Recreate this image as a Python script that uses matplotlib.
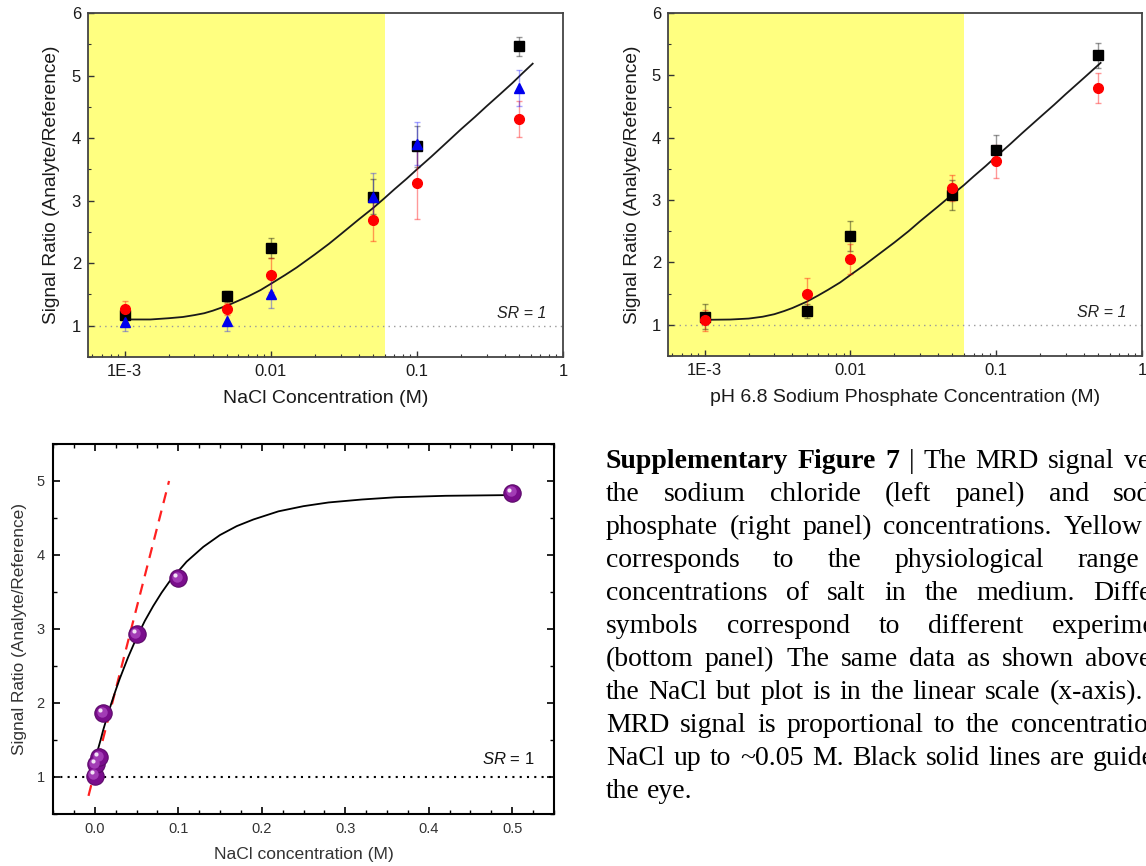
import numpy as np
import matplotlib
matplotlib.use('Agg')
import matplotlib.pyplot as plt
import matplotlib.transforms as mtransforms
from matplotlib.ticker import FixedLocator, FixedFormatter, LogLocator, NullFormatter, MultipleLocator

plt.rcParams['font.family'] = ['Liberation Sans', 'DejaVu Sans']
plt.rcParams['mathtext.fontset'] = 'custom'
plt.rcParams['mathtext.rm'] = 'Liberation Sans'
plt.rcParams['mathtext.it'] = 'Liberation Sans:italic'

# concentrations (M) used in both log panels
conc = [0.001, 0.005, 0.01, 0.05, 0.1, 0.5]

# NaCl, three experiments
nacl_sq = [1.17, 1.47, 2.25, 3.06, 3.87, 5.47]
nacl_sq_err = [0.08, 0.09, 0.16, 0.28, 0.33, 0.15]
nacl_ci = [1.26, 1.27, 1.81, 2.69, 3.28, 4.30]
nacl_ci_err = [0.13, 0.10, 0.27, 0.34, 0.58, 0.29]
nacl_tri = [1.06, 1.07, 1.51, 3.06, 3.91, 4.80]
nacl_tri_err = [0.14, 0.15, 0.23, 0.38, 0.34, 0.29]

# sodium phosphate pH 6.8, two experiments
phos_sq = [1.13, 1.22, 2.42, 3.08, 3.81, 5.32]
phos_sq_err = [0.20, 0.11, 0.24, 0.24, 0.24, 0.20]
phos_ci = [1.07, 1.49, 2.06, 3.20, 3.62, 4.79]
phos_ci_err = [0.17, 0.26, 0.24, 0.21, 0.26, 0.24]

# guide-to-the-eye lines
nacl_guide_x = [0.001, 0.0015, 0.002, 0.0025, 0.003, 0.0035, 0.004, 0.005, 0.006, 0.007,
                0.0085, 0.01, 0.0125, 0.015, 0.02, 0.025, 0.03, 0.04, 0.05, 0.06, 0.07,
                0.085, 0.1, 0.125, 0.15, 0.2, 0.25, 0.3, 0.37, 0.45, 0.53, 0.62]
nacl_guide_y = [1.10, 1.10, 1.12, 1.14, 1.17, 1.20, 1.24, 1.32, 1.40, 1.47,
                1.57, 1.67, 1.81, 1.93, 2.14, 2.31, 2.46, 2.70, 2.88, 3.04, 3.18,
                3.35, 3.50, 3.70, 3.87, 4.14, 4.34, 4.51, 4.70, 4.88, 5.04, 5.19]
phos_guide_x = [0.001, 0.0015, 0.002, 0.0025, 0.003, 0.0035, 0.004, 0.005, 0.006, 0.007,
                0.0085, 0.01, 0.0125, 0.015, 0.02, 0.025, 0.03, 0.04, 0.05, 0.06, 0.07,
                0.085, 0.1, 0.125, 0.15, 0.2, 0.25, 0.3, 0.4, 0.52]
phos_guide_y = [1.08, 1.085, 1.10, 1.13, 1.17, 1.22, 1.27, 1.37, 1.47, 1.56,
                1.68, 1.80, 1.96, 2.10, 2.32, 2.50, 2.66, 2.90, 3.09, 3.24, 3.38,
                3.55, 3.70, 3.90, 4.07, 4.33, 4.53, 4.70, 4.96, 5.20]

# NaCl on a linear axis
lin_x = [0.0, 0.001, 0.005, 0.01, 0.05, 0.1, 0.5]
lin_y = [1.02, 1.17, 1.27, 1.86, 2.93, 3.69, 4.84]
lin_guide_x = [0.004, 0.007, 0.01, 0.015, 0.02, 0.025, 0.03, 0.04, 0.05, 0.06,
               0.07, 0.08, 0.09, 0.1, 0.11, 0.12, 0.13, 0.14, 0.15, 0.17,
               0.19, 0.22, 0.25, 0.28, 0.32, 0.36, 0.42, 0.5]
lin_guide_y = [1.38, 1.50, 1.63, 1.82, 2.00, 2.17, 2.33, 2.62, 2.88, 3.11,
               3.31, 3.49, 3.65, 3.78, 3.91, 4.01, 4.11, 4.19, 4.27, 4.39,
               4.48, 4.59, 4.66, 4.71, 4.75, 4.78, 4.80, 4.81]
slope_x = [-0.0075, 0.089]
slope_y = [0.745, 5.0]

physio_max = 0.06
log_ticks = [1e-3, 1e-2, 1e-1, 1]
log_tick_labels = ['1E-3', '0.01', '0.1', '1']

caption_bold = ['Supplementary', 'Figure', '7']
caption_lines = [
    '| The MRD signal versus',
    'the sodium chloride (left panel) and sodium',
    'phosphate (right panel) concentrations. Yellow box',
    'corresponds to the physiological range of',
    'concentrations of salt in the medium. Different',
    'symbols correspond to different experiments.',
    '(bottom panel) The same data as shown above for',
    'the NaCl but plot is in the linear scale (x-axis). The',
    'MRD signal is proportional to the concentration of',
    'NaCl up to ~0.05 M. Black solid lines are guides to',
    'the eye.',
]

W, H = 1146, 866
fig = plt.figure(figsize=(W / 100, H / 100), dpi=100)


def px_axes(left, top, right, bottom):
    return fig.add_axes([left / W, 1 - bottom / H, (right - left) / W, (bottom - top) / H])


def log_panel(ax, series, gx, gy, xlabel):
    xlo = 5.6e-4
    ax.set_xscale('log')
    ax.set_xlim(xlo, 1.0)
    ax.set_ylim(0.5, 6)
    ax.axvspan(xlo, physio_max, color='#ffff80', lw=0, zorder=0)
    ax.axhline(1, color='#9a9a9a', lw=1.0, ls=(0, (1, 3)), zorder=1)
    ax.plot(gx, gy, color='#1a1a1a', lw=1.3, zorder=3)
    for y, err, mk, col, ecol, ms in series:
        ax.errorbar(conc, y, yerr=err, fmt=mk, color=col, mec=col, ms=ms,
                    ecolor=ecol, elinewidth=1, capsize=2.5, capthick=1, zorder=4)
    ax.xaxis.set_major_locator(FixedLocator(log_ticks))
    ax.xaxis.set_major_formatter(FixedFormatter(log_tick_labels))
    ax.xaxis.set_minor_locator(LogLocator(base=10, subs=np.arange(2, 10)))
    ax.xaxis.set_minor_formatter(NullFormatter())
    ax.yaxis.set_major_locator(MultipleLocator(1))
    ax.yaxis.set_minor_locator(MultipleLocator(0.5))
    ax.tick_params(which='both', direction='in', colors='#333333', labelcolor='#1a1a1a',
                   labelsize=12, top=False, right=False)
    ax.tick_params(which='major', length=4, width=1, pad=5)
    ax.tick_params(which='minor', length=2.5, width=0.8)
    for s in ax.spines.values():
        s.set_color('#444444')
        s.set_linewidth(1.3)
    ax.set_xlabel(xlabel, fontsize=14, color='#1a1a1a')
    ax.set_ylabel('Signal Ratio (Analyte/Reference)', fontsize=13.8, color='#1a1a1a')
    ax.xaxis.set_label_coords(0.5, -0.095)
    ax.yaxis.set_label_coords(-0.058, 0.5)
    tr = mtransforms.blended_transform_factory(ax.transAxes, ax.transData)
    ax.text(0.966, 1.2, 'SR = 1', transform=tr, ha='right', va='center',
            style='italic', fontsize=11.5, color='#222222')


ax1 = px_axes(88, 13, 563, 357)
log_panel(ax1, [
    (nacl_sq, nacl_sq_err, 's', 'black', (0, 0, 0, 0.4), 6.5),
    (nacl_ci, nacl_ci_err, 'o', 'red', (1, 0, 0, 0.4), 7),
    (nacl_tri, nacl_tri_err, '^', '#0000ee', (0, 0, 1, 0.35), 7.5),
], nacl_guide_x, nacl_guide_y, 'NaCl Concentration (M)')

ax2 = px_axes(668, 13, 1142, 356)
log_panel(ax2, [
    (phos_sq, phos_sq_err, 's', 'black', (0, 0, 0, 0.4), 6.5),
    (phos_ci, phos_ci_err, 'o', 'red', (1, 0, 0, 0.4), 7),
], phos_guide_x, phos_guide_y, 'pH 6.8 Sodium Phosphate Concentration (M)')

# linear NaCl panel
ax3 = px_axes(53, 444, 554, 814)
ax3.set_xlim(-0.05, 0.55)
ax3.set_ylim(0.5, 5.5)
ax3.axhline(1, color='black', lw=1.5, ls=(0, (1, 2.5)), zorder=1)
ax3.plot(slope_x, slope_y, color='#ff2020', lw=1.6, ls=(0, (5, 3.5)), zorder=2)
ax3.plot(lin_guide_x, lin_guide_y, color='black', lw=1.3, zorder=3)
ax3.plot(lin_x, lin_y, 'o', ms=12.5, color='#7a0d8c', mec='#5c0a6a', mew=0.8, zorder=5)
mid = mtransforms.offset_copy(ax3.transData, fig=fig, x=-1.0, y=1.0, units='points')
ax3.plot(lin_x, lin_y, 'o', ms=7.5, color='#a23cb5', mew=0, zorder=6, transform=mid)
hi = mtransforms.offset_copy(ax3.transData, fig=fig, x=-2.0, y=2.2, units='points')
ax3.plot(lin_x, lin_y, 'o', ms=3, color='#f2e2f5', mew=0, zorder=7, transform=hi)
ax3.xaxis.set_major_locator(MultipleLocator(0.1))
ax3.xaxis.set_minor_locator(MultipleLocator(0.025))
ax3.yaxis.set_major_locator(MultipleLocator(1))
ax3.yaxis.set_minor_locator(MultipleLocator(0.5))
ax3.tick_params(which='both', direction='in', top=True, right=True, colors='black',
                labelcolor='#333333', labelsize=10.5)
ax3.tick_params(which='major', length=5, width=1.2, pad=6)
ax3.tick_params(which='minor', length=3, width=1.0)
for s in ax3.spines.values():
    s.set_linewidth(1.5)
ax3.set_xlabel('NaCl concentration (M)', fontsize=12.6, color='#333333')
ax3.set_ylabel('Signal Ratio (Analyte/Reference)', fontsize=12.4, color='#333333')
ax3.xaxis.set_label_coords(0.5, -0.09)
ax3.yaxis.set_label_coords(-0.052, 0.5)
tr3 = mtransforms.blended_transform_factory(ax3.transAxes, ax3.transData)
ax3.text(0.96, 1.25, r'$\mathit{SR}$ = 1', transform=tr3, ha='right', va='center',
         fontsize=12, color='#111111')

# caption, justified word by word
cap_size = 20
cap_left, cap_right = 606, 1195
cap_base, cap_step = 468, 33
renderer = fig.canvas.get_renderer()
for i, line in enumerate(caption_lines):
    words = [(w, 'bold') for w in caption_bold] if i == 0 else []
    words += [(w, 'normal') for w in line.split()]
    texts = []
    for w, wt in words:
        t = fig.text(0, 0, w, fontsize=cap_size, fontweight=wt, color='black',
                     family=['Liberation Serif', 'DejaVu Serif'], va='baseline', ha='left')
        texts.append(t)
    widths = [t.get_window_extent(renderer).width for t in texts]
    if i == len(caption_lines) - 1:
        gap = 0.25 * cap_size * 100 / 72
    else:
        gap = (cap_right - cap_left - sum(widths)) / (len(words) - 1)
    x = cap_left
    y = 1 - (cap_base + i * cap_step) / H
    for t, w in zip(texts, widths):
        t.set_position((x / W, y))
        x += w + gap

fig.savefig('out.png', dpi=100)
